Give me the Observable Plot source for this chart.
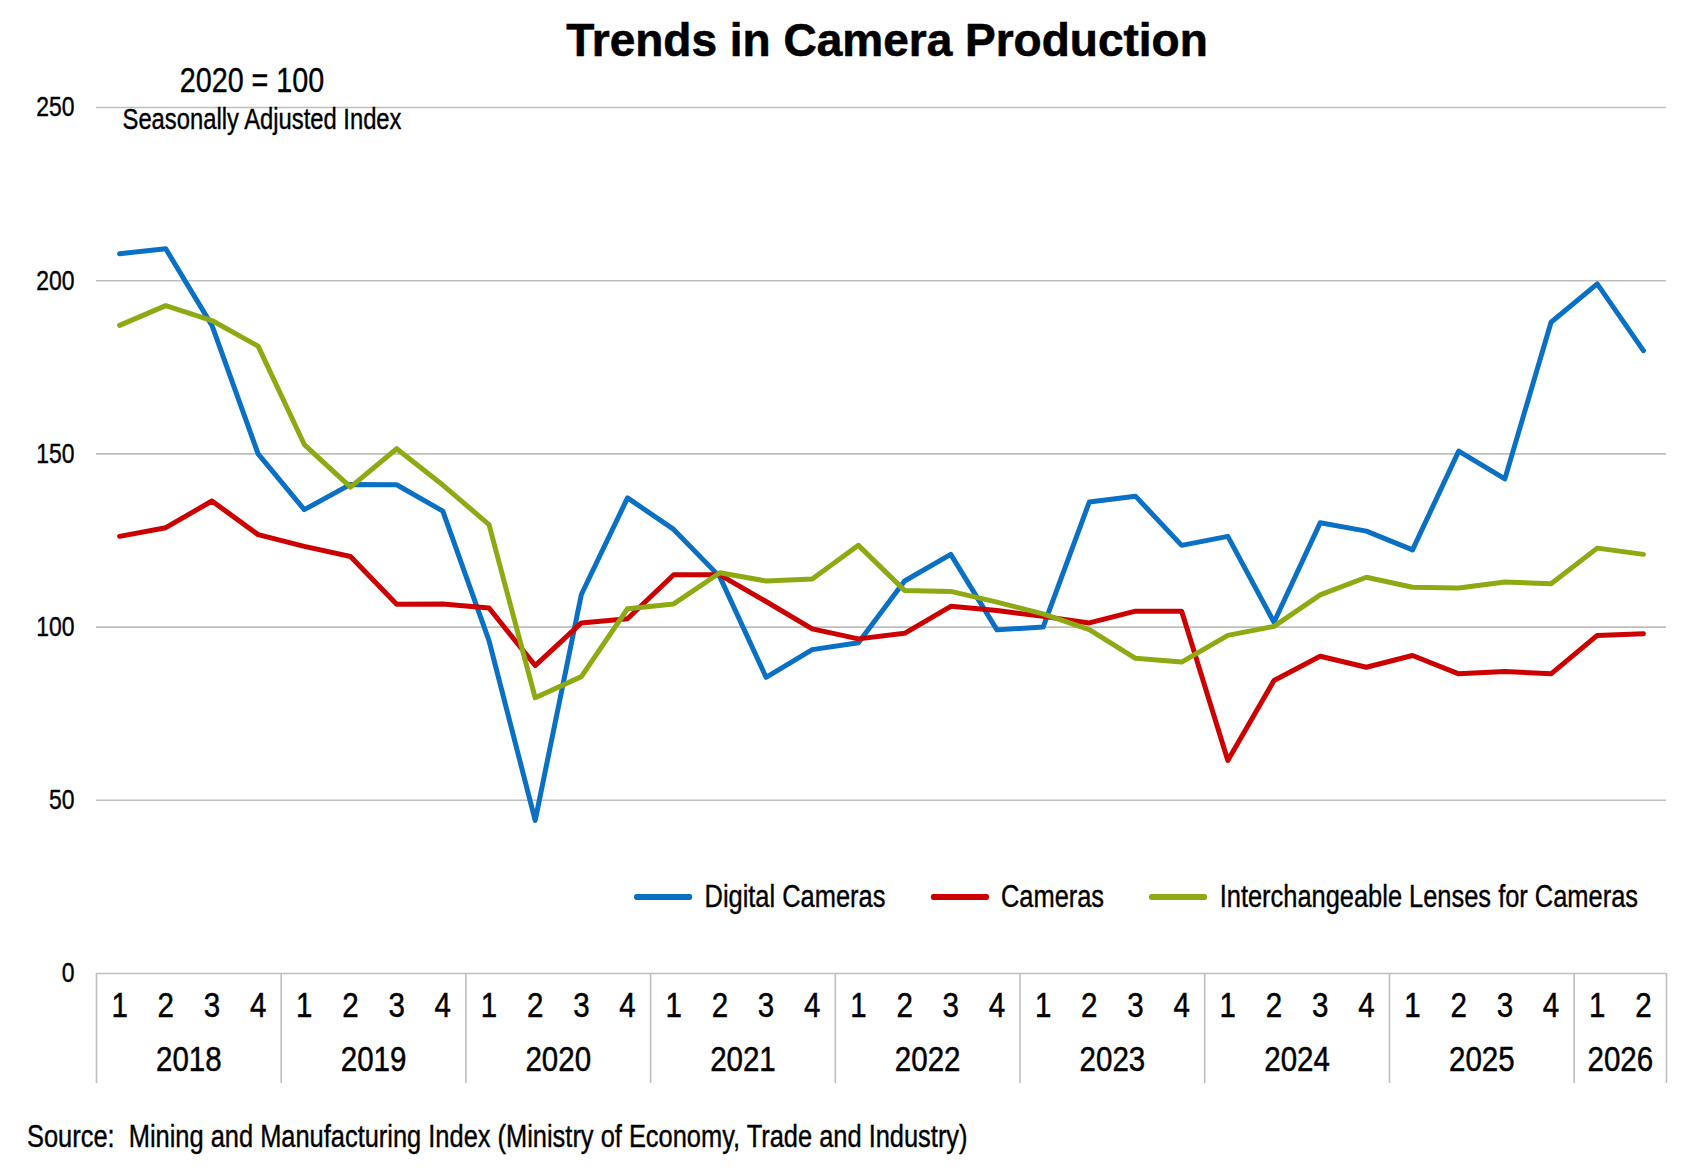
<!DOCTYPE html>
<html>
<head>
<meta charset="utf-8">
<script src="https://cdn.jsdelivr.net/npm/d3@7"></script>
<script src="https://cdn.jsdelivr.net/npm/@observablehq/plot@0.6"></script>
<style>
  html, body { margin: 0; padding: 0; background: #fff; }
  #wrap { position: relative; width: 1696px; height: 1168px; overflow: hidden;
          font-family: "Liberation Sans", Arial, sans-serif; color: #000; }
  #chart { position: absolute; left: 0; top: 80px; }
  #title { position: absolute; top: 40px; left: 887px; transform: translate(-50%, -50%);
           font-weight: bold; font-size: 46px; white-space: nowrap; -webkit-text-stroke: 0.6px #000; }
  .note { position: absolute; transform: translate(-50%, -50%) scaleX(0.82); white-space: nowrap; -webkit-text-stroke: 0.4px #000; }
  #legend { position: absolute; left: 634px; top: 897px; transform-origin: 0 50%;
            transform: translateY(-50%) scaleX(0.82);
            display: flex; align-items: center; gap: 55px; font-size: 31px; white-space: nowrap; -webkit-text-stroke: 0.4px #000; }
  .item { display: flex; align-items: center; gap: 15px; }
  .sw { width: 71px; height: 6px; border-radius: 3px; }
  #source { position: absolute; left: 27px; top: 1137px; transform-origin: 0 50%;
            transform: translateY(-50%) scaleX(0.82); font-size: 31px; white-space: nowrap; -webkit-text-stroke: 0.4px #000; }
</style>
</head>
<body>
<div id="wrap">
  <div id="chart"></div>
  <div id="title">Trends in Camera Production</div>
  <div class="note" style="left:252px; top:80px; font-size:35px;">2020 = 100</div>
  <div class="note" style="left:262px; top:119px; font-size:29px;">Seasonally Adjusted Index</div>
  <div id="legend"></div>
  <div id="source">Source:&nbsp; Mining and Manufacturing Index (Ministry of Economy, Trade and Industry)</div>
</div>
<script>
// ---- data ----
const years = [2018, 2019, 2020, 2021, 2022, 2023, 2024, 2025, 2026];
const quartersPerYear = [4, 4, 4, 4, 4, 4, 4, 4, 2];
const quarterLabels = ["1", "2", "3", "4"];
const seriesNames = ["Digital Cameras", "Cameras", "Interchangeable Lenses for Cameras"];
const seriesColors = ["#0A70C4", "#CC0000", "#8DAA12"];
const yTicks = [0, 50, 100, 150, 200, 250];

const digitalCameras = [207.8, 209.2, 187.1, 150.0, 133.9, 141.2, 141.1, 133.5, 96.1, 44.2, 109.4, 137.3,
  128.2, 114.5, 85.5, 93.5, 95.5, 113.3, 121.0, 99.2, 100.0, 136.1, 137.8, 123.6,
  126.2, 101.4, 130.1, 127.7, 122.3, 150.8, 142.8, 188.0, 199.1, 179.8];
const cameras = [126.2, 128.7, 136.4, 126.7, 123.3, 120.4, 106.6, 106.7, 105.5, 88.9, 101.2, 102.4,
  115.1, 115.1, 107.4, 99.5, 96.6, 98.2, 106.0, 104.8, 103.1, 101.2, 104.6, 104.6,
  61.5, 84.6, 91.6, 88.4, 91.8, 86.5, 87.2, 86.5, 97.6, 98.1];
const lenses = [187.1, 192.8, 188.5, 181.1, 152.7, 140.4, 151.5, 141.0, 129.6, 79.6, 85.7, 105.3,
  106.7, 115.7, 113.3, 113.9, 123.6, 110.6, 110.3, 107.2, 103.8, 99.3, 91.0, 89.9,
  97.6, 100.2, 109.3, 114.4, 111.5, 111.3, 113.0, 112.5, 122.8, 121.0];

// ---- derived tables ----
const quarters = [];
const yearSpans = [];
years.forEach((yr, yi) => {
  const start = quarters.length;
  for (let q = 0; q < quartersPerYear[yi]; q++) quarters.push({i: quarters.length, year: yr, q: quarterLabels[q]});
  yearSpans.push({year: String(yr), center: (start + quarters.length - 1) / 2, start: start - 0.5, end: quarters.length - 0.5});
});
const boundaries = [yearSpans[0].start, ...yearSpans.map(d => d.end)];
const allSeries = [digitalCameras, cameras, lenses];
const tidy = [];
allSeries.forEach((vals, si) => vals.forEach((v, i) => tidy.push({i, value: v, series: seriesNames[si]})));

const N = quarters.length;
const txt = {fill: "#000", stroke: "#000", strokeWidth: 0.5, paintOrder: "normal"};
const plot = Plot.plot({
  width: 1696,
  height: 1010,
  marginLeft: 96,
  marginRight: 30,
  marginTop: 27,
  marginBottom: 117,
  style: {fontFamily: '"Liberation Sans", Arial, sans-serif', color: "#000", background: "transparent"},
  x: {domain: [-0.5, N - 0.5], axis: null},
  y: {domain: [0, 250], axis: null},
  color: {domain: seriesNames, range: seriesColors},
  marks: [
    Plot.ruleY(yTicks, {stroke: "#BEBEBE", strokeWidth: 1.6}),
    Plot.ruleX(boundaries, {x: d => d, y1: 0, y2: 0, insetBottom: -110, stroke: "#BEBEBE", strokeWidth: 1.6}),
    Plot.text(yTicks, {y: d => d, text: d => String(d), frameAnchor: "left", textAnchor: "end", dx: -22, fontSize: 28, ...txt, strokeWidth: 0.4}),
    Plot.text(quarters, {x: "i", text: "q", frameAnchor: "bottom", dy: 43, fontSize: 36, ...txt}),
    Plot.text(yearSpans, {x: "center", text: "year", frameAnchor: "bottom", dy: 97, fontSize: 36, ...txt}),
    Plot.line(tidy, {x: "i", y: "value", z: "series", stroke: "series", strokeWidth: 5, strokeLinejoin: "round", strokeLinecap: "round"})
  ]
});
// condense the glyphs horizontally (narrow face of the reference)
d3.select(plot).selectAll("text").each(function () {
  const t = this.getAttribute("transform") || "";
  this.setAttribute("transform", t + " scale(0.82,1)");
});
document.getElementById("chart").appendChild(plot);

const legend = document.getElementById("legend");
seriesNames.forEach((name, k) => {
  const item = document.createElement("div");
  item.className = "item";
  const sw = document.createElement("div");
  sw.className = "sw";
  sw.style.background = seriesColors[k];
  const label = document.createElement("span");
  label.textContent = name;
  item.appendChild(sw);
  item.appendChild(label);
  legend.appendChild(item);
});
</script>
</body>
</html>
